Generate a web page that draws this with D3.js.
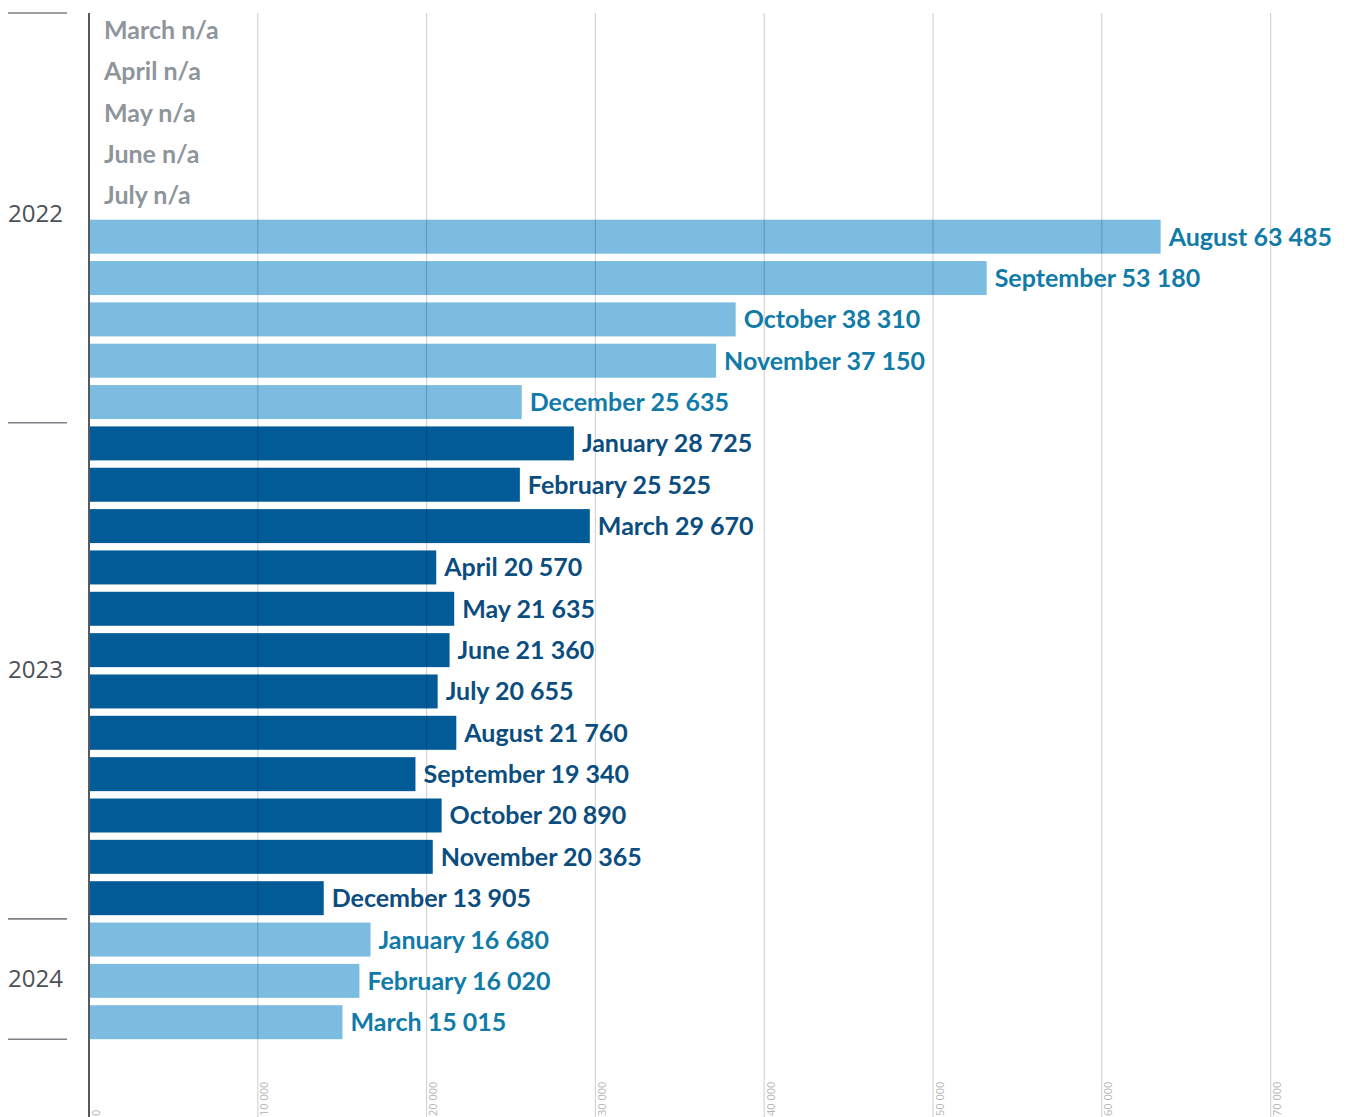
<!DOCTYPE html>
<html>
<head>
<meta charset="utf-8">
<script src="https://cdn.jsdelivr.net/npm/d3@7"></script>
<style>
  html, body { margin: 0; padding: 0; background: #fff; }
  svg { display: block; }
</style>
</head>
<body>
<svg id="chart" width="1346" height="1117"></svg>
<script>
// Monthly counts, March 2022 – March 2024 (null = not available)
const months = ["March", "April", "May", "June", "July", "August", "September", "October", "November", "December",
                "January", "February", "March", "April", "May", "June", "July", "August", "September", "October", "November", "December",
                "January", "February", "March"];
const years = ["2022", "2022", "2022", "2022", "2022", "2022", "2022", "2022", "2022", "2022",
               "2023", "2023", "2023", "2023", "2023", "2023", "2023", "2023", "2023", "2023", "2023", "2023",
               "2024", "2024", "2024"];
const values = [null, null, null, null, null, 63485, 53180, 38310, 37150, 25635,
                28725, 25525, 29670, 20570, 21635, 21360, 20655, 21760, 19340, 20890, 20365, 13905,
                16680, 16020, 15015];
const yearLabels = ["2022", "2023", "2024"];
const tickValues = [0, 10000, 20000, 30000, 40000, 50000, 60000, 70000];

const W = 1346, H = 1117;
const svg = d3.select("#chart");

const rows = months.map((m, i) => ({ i, month: m, year: years[i], value: values[i] }));

const x = d3.scaleLinear().domain([0, 70000]).range([89, 1270.6]);
const y = d3.scaleBand().domain(rows.map(d => d.i)).range([13, 1039.2]).paddingInner(0.178).paddingOuter(0);

const fmt = v => d3.format(",")(v).replace(/,/g, " ");

const barColor = { "2022": "#7bbce0", "2023": "#005b97", "2024": "#7bbce0" };
const textColor = { "2022": "#117ba7", "2023": "#0b4d7e", "2024": "#117ba7" };

// bars
svg.append("g").selectAll("rect")
  .data(rows.filter(d => d.value != null))
  .join("rect")
  .attr("x", x(0))
  .attr("y", d => y(d.i))
  .attr("width", d => x(d.value) - x(0))
  .attr("height", y.bandwidth())
  .attr("fill", d => barColor[d.year]);

// vertical grid lines, drawn over the bars
svg.append("g").selectAll("line")
  .data(tickValues.slice(1))
  .join("line")
  .attr("x1", d => x(d)).attr("x2", d => x(d))
  .attr("y1", 13).attr("y2", H)
  .attr("stroke", "#000").attr("stroke-opacity", 0.17).attr("stroke-width", 1.2);

// axis tick labels, rotated, at the foot of each grid line
svg.append("g").selectAll("text")
  .data(tickValues)
  .join("text")
  .attr("transform", d => `translate(${x(d) + 10.5},${H - 1}) rotate(-90)`)
  .attr("font-family", "Open Sans, sans-serif")
  .attr("font-size", 11)
  .attr("fill", "#b5b5b5")
  .text(d => fmt(d));

// baseline axis
svg.append("line")
  .attr("x1", x(0)).attr("x2", x(0))
  .attr("y1", 13).attr("y2", H)
  .attr("stroke", "#555a60").attr("stroke-width", 2);

// value labels
svg.append("g").selectAll("text")
  .data(rows)
  .join("text")
  .attr("x", d => d.value == null ? x(0) + 15 : x(d.value) + 8)
  .attr("y", d => y(d.i) + y.bandwidth() / 2 + 9)
  .attr("font-family", "Lato, sans-serif")
  .attr("font-weight", 700)
  .attr("font-size", 25)
  .attr("fill", d => d.value == null ? "#8e959b" : textColor[d.year])
  .text(d => d.value == null ? `${d.month} n/a` : `${d.month} ${fmt(d.value)}`);

// year groups: separators and labels
const groups = yearLabels.map(yr => {
  const idx = rows.filter(d => d.year === yr).map(d => d.i);
  return { year: yr, first: d3.min(idx), last: d3.max(idx) };
});
const gap = y.step() - y.bandwidth();
const bounds = [y(groups[0].first)];
groups.slice(1).forEach(g => bounds.push(y(g.first) - gap / 2));
bounds.push(y(groups[groups.length - 1].last) + y.bandwidth());

svg.append("g").selectAll("line")
  .data(bounds)
  .join("line")
  .attr("x1", 8).attr("x2", 67)
  .attr("y1", d => d).attr("y2", d => d)
  .attr("stroke", "#7d8185").attr("stroke-width", 1.6);

svg.append("g").selectAll("text")
  .data(groups)
  .join("text")
  .attr("x", 8)
  .attr("y", (d, k) => (bounds[k] + bounds[k + 1]) / 2 + (k === 0 ? 4 : 7.5))
  .attr("font-family", "Open Sans, sans-serif")
  .attr("font-size", 24)
  .attr("fill", "#4c5157")
  .text(d => d.year);
</script>
</body>
</html>
